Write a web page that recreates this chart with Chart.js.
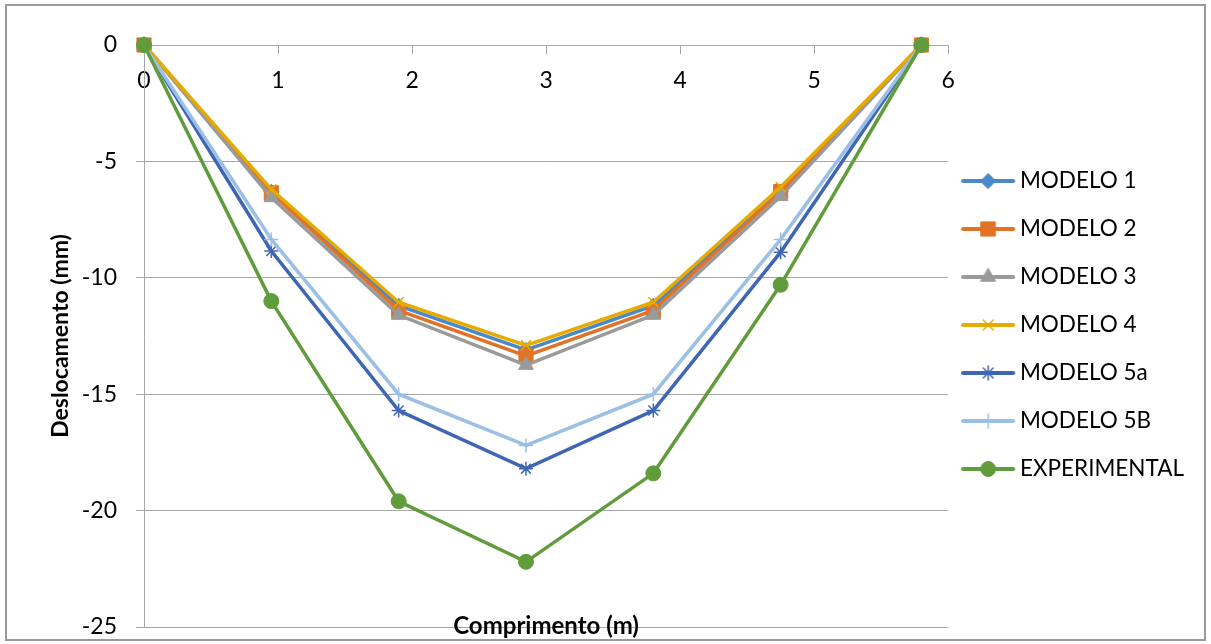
<!DOCTYPE html>
<html>
<head>
<meta charset="utf-8">
<script src="https://cdn.jsdelivr.net/npm/chart.js@4/dist/chart.umd.min.js"></script>
<style>
  html, body { margin: 0; padding: 0; background: #fff; }
  #wrap { width: 1211px; height: 644px; }
</style>
</head>
<body>
<div id="wrap"><canvas id="chart"></canvas></div>
<script>
// comprimento ao longo da viga (m)
const posicoes = [0, 0.95, 1.9, 2.85, 3.8, 4.75, 5.8];

// deslocamentos (mm)
const modelo1 = [0, -6.3, -11.2, -13.1, -11.2, -6.3, 0];
const modelo2 = [0, -6.35, -11.4, -13.35, -11.4, -6.3, 0];
const modelo3 = [0, -6.55, -11.6, -13.75, -11.6, -6.5, 0];
const modelo4 = [0, -6.2, -11.05, -12.9, -11.05, -6.1, 0];
const modelo5a = [0, -8.85, -15.7, -18.2, -15.7, -8.9, 0];
const modelo5b = [0, -8.35, -15.0, -17.2, -15.0, -8.35, 0];
const experimental = [0, -11.0, -19.6, -22.2, -18.4, -10.3, 0];

const nomes = ["MODELO 1", "MODELO 2", "MODELO 3", "MODELO 4", "MODELO 5a", "MODELO 5B", "EXPERIMENTAL"];
const series = [modelo1, modelo2, modelo3, modelo4, modelo5a, modelo5b, experimental];
const tituloX = "Comprimento (m)";
const tituloY = "Deslocamento (mm)";

// estilos (cores tipo Excel)
const cores = ["#4a88c7", "#e07328", "#9a9a9a", "#e6aa00", "#3f66b4", "#9cbfe5", "#619c3c"];
const marcadores = ["rectRot", "rect", "triangle", "crossRot", "star", "cross", "circle"];
const raios = [7.5, 10, 8.5, 7, 7, 7, 7.5];
const bordas = [1, 1, 1, 1.5, 1.5, 1.5, 1];

Chart.defaults.font.family = "Lato";
Chart.defaults.color = "#000";

// icone da legenda: linha + marcador
function legendIcon(i) {
    const c = document.createElement("canvas");
    c.width = 60;
    c.height = 24;
    const ctx = c.getContext("2d");
    ctx.strokeStyle = cores[i];
    ctx.lineWidth = 4;
    ctx.lineCap = "round";
    ctx.beginPath();
    ctx.moveTo(2, 12);
    ctx.lineTo(52, 12);
    ctx.stroke();
    ctx.fillStyle = cores[i];
    ctx.lineWidth = bordas[i];
    Chart.helpers.drawPoint(ctx, {pointStyle: marcadores[i], radius: raios[i], borderWidth: bordas[i], rotation: 0}, 27, 12);
    return c;
}
const icones = nomes.map((n, i) => legendIcon(i));

let datasets = [];
for (let i = 0; i < series.length; i++) {
    datasets.push({
        label: nomes[i],
        data: posicoes.map((x, k) => ({x: x, y: series[i][k]})),
        borderColor: cores[i],
        backgroundColor: cores[i],
        borderWidth: 3.5,
        pointStyle: marcadores[i],
        pointRadius: raios[i],
        pointHoverRadius: raios[i],
        pointBorderWidth: bordas[i],
        tension: 0,
        clip: false,
        order: series.length - i
    });
}

// moldura e titulo do eixo x
const extras = {
    id: "extras",
    beforeDraw(chart) {
        const ctx = chart.ctx;
        ctx.save();
        ctx.fillStyle = "#fff";
        ctx.fillRect(0, 0, chart.width, chart.height);
        ctx.restore();
    },
    afterDraw(chart) {
        const ctx = chart.ctx;
        const a = chart.chartArea;
        ctx.save();
        ctx.strokeStyle = "#9a9a9a";
        ctx.lineWidth = 2;
        ctx.strokeRect(6, 5, chart.width - 12, chart.height - 9);
        ctx.fillStyle = "#000";
        ctx.font = "bold 24px Lato";
        ctx.textAlign = "center";
        ctx.textBaseline = "alphabetic";
        ctx.fillText(tituloX, (a.left + a.right) / 2, a.bottom + 7);
        ctx.restore();
    }
};

new Chart(document.getElementById("chart"), {
    type: "line",
    data: {datasets: datasets},
    plugins: [extras],
    options: {
        responsive: true,
        maintainAspectRatio: false,
        animation: false,
        layout: {padding: {top: 6, bottom: 0, left: 10, right: 17}},
        plugins: {
            tooltip: {enabled: false},
            legend: {
                position: "right",
                labels: {
                    usePointStyle: true,
                    pointStyleWidth: 35,
                    padding: 25.5,
                    color: "#000",
                    font: {size: 22.5},
                    generateLabels(chart) {
                        const items = Chart.defaults.plugins.legend.labels.generateLabels(chart);
                        items.forEach(it => { it.pointStyle = icones[it.datasetIndex]; });
                        return items.sort((a, b) => a.datasetIndex - b.datasetIndex);
                    }
                }
            }
        },
        scales: {
            x: {
                type: "linear",
                position: {y: 0},
                min: 0,
                max: 6,
                ticks: {stepSize: 1, padding: 14, font: {size: 23}, color: "#000"},
                grid: {drawOnChartArea: false, drawTicks: true, tickLength: 8, color: "#a6a6a6"},
                border: {display: true, color: "#a6a6a6", width: 1}
            },
            y: {
                position: "left",
                min: -25,
                max: 0,
                ticks: {stepSize: 5, padding: 19, crossAlign: "near", font: {size: 23}, color: "#000"},
                grid: {color: "#a6a6a6", tickLength: 8},
                border: {color: "#a6a6a6"},
                title: {
                    display: true,
                    text: tituloY,
                    color: "#000",
                    font: {size: 23, weight: "bold"},
                    padding: {top: 37, bottom: 0}
                },
                afterFit(s) {
                    s.width = 134;
                    s.paddingTop = 45;
                    s.paddingBottom = 17;
                }
            }
        }
    }
});
</script>
</body>
</html>
